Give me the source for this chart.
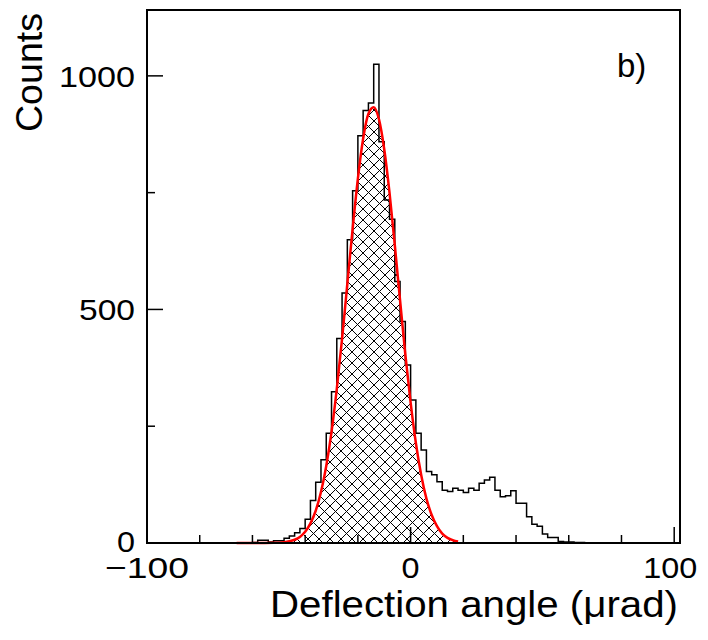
<!DOCTYPE html>
<html lang="en">
  <head>
    <meta charset="UTF-8" />
    <title>Deflection angle histogram</title>
    <script src="https://d3js.org/d3.v7.min.js"></script>
    <style>
      body {
        margin: 0;
        background: #fff;
      }
      svg {
        display: block;
        font-family: "Liberation Sans", Arial, sans-serif;
      }
    </style>
  </head>
  <body>
    <svg id="chart"></svg>
    <script>
      // histogram: 2 µrad bins, lower edge of first bin below
      const binStart = -60;
      const binWidth = 2;
      const counts = [
        1, 6, 6, 2, 5, 5, 10, 15, 22, 31, 51, 91, 130, 178, 235, 324, 438, 535,
        649, 754, 872, 926, 942, 1025, 859, 734, 693, 560, 474, 381, 306, 235,
        199, 153, 146, 131, 113, 110, 117, 113, 108, 117, 113, 128, 135, 141,
        113, 99, 101, 112, 85, 85, 56, 40, 36, 19, 12, 12, 3, 2, 2, 1, 1,
      ];

      // fitted curve (red)
      const fitAngle = [
        -66, -60, -56, -52, -50, -48, -46, -44, -42, -40, -38, -36, -34, -32,
        -30, -28, -26, -24, -22, -20, -18, -16, -14, -12, -10, -8, -6, -4, -2,
        0, 2, 4, 6, 8, 10, 12, 14, 16, 18,
      ];
      const fitCounts = [
        0, 0, 0.1, 0.4, 0.8, 1.7, 3.6, 7, 13, 24, 42, 69, 109, 165, 238, 330,
        437, 555, 672, 780, 866, 919, 933, 907, 843, 750, 638, 520, 404, 301,
        214, 146, 95, 60, 36, 20, 11, 6, 3,
      ];

      const xMajor = [-100, 0, 100];
      const xMinor = [-80, -60, -40, -20, 20, 40, 60, 80];
      const yMajor = [0, 500, 1000];
      const yMinor = [250, 750];

      const width = 708;
      const height = 640;
      const margin = { left: 147, right: 28, top: 10, bottom: 97 };

      const svg = d3
        .select("#chart")
        .attr("width", width)
        .attr("height", height);

      const x = d3
        .scaleLinear()
        .domain([-100, 102.2])
        .range([margin.left, width - margin.right]);
      const y = d3
        .scaleLinear()
        .domain([0, 1141])
        .range([height - margin.bottom, margin.top]);

      // cross hatch pattern
      const s = 11;
      const pat = svg
        .append("defs")
        .append("pattern")
        .attr("id", "hatch")
        .attr("patternUnits", "userSpaceOnUse")
        .attr("width", s)
        .attr("height", s);
      pat
        .append("path")
        .attr("d", `M-1,-1L${s + 1},${s + 1}M-1,${s + 1}L${s + 1},-1`)
        .attr("stroke", "#000")
        .attr("stroke-width", 1.1)
        .attr("shape-rendering", "crispEdges");

      const fit = fitAngle.map((a, i) => [a, fitCounts[i]]);

      // hatched area under the fit
      svg
        .append("path")
        .datum(fit)
        .attr("fill", "url(#hatch)")
        .attr(
          "d",
          d3
            .area()
            .x((d) => x(d[0]))
            .y0(y(0))
            .y1((d) => y(d[1]))
            .curve(d3.curveMonotoneX)
        );

      // histogram outline
      const steps = counts.map((c, i) => [binStart + i * binWidth, c]);
      steps.push([binStart + counts.length * binWidth, 0]);
      const full = [[-100, 0], [binStart, 0]].concat(steps, [[102.2, 0]]);
      svg
        .append("path")
        .datum(full)
        .attr("fill", "none")
        .attr("stroke", "#000")
        .attr("stroke-width", 1.5)
        .attr(
          "d",
          d3
            .line()
            .x((d) => x(d[0]))
            .y((d) => y(d[1]))
            .curve(d3.curveStepAfter)
        );

      // fit line
      svg
        .append("path")
        .datum(fit)
        .attr("fill", "none")
        .attr("stroke", "#ff0000")
        .attr("stroke-width", 2.5)
        .attr(
          "d",
          d3
            .line()
            .x((d) => x(d[0]))
            .y((d) => y(d[1]))
            .curve(d3.curveMonotoneX)
        );

      // frame
      svg
        .append("rect")
        .attr("x", x.range()[0])
        .attr("y", y.range()[1])
        .attr("width", x.range()[1] - x.range()[0])
        .attr("height", y.range()[0] - y.range()[1])
        .attr("fill", "none")
        .attr("stroke", "#000")
        .attr("stroke-width", 2);

      // ticks (inside the frame)
      const y0 = y(0);
      const x0 = x.range()[0];
      svg
        .selectAll(".xt")
        .data(xMajor.map((v) => [v, 16]).concat(xMinor.map((v) => [v, 8])))
        .join("line")
        .attr("x1", (d) => x(d[0]))
        .attr("x2", (d) => x(d[0]))
        .attr("y1", y0)
        .attr("y2", (d) => y0 - d[1])
        .attr("stroke", "#000")
        .attr("stroke-width", 1.5);
      svg
        .selectAll(".yt")
        .data(yMajor.map((v) => [v, 16]).concat(yMinor.map((v) => [v, 8])))
        .join("line")
        .attr("y1", (d) => y(d[0]))
        .attr("y2", (d) => y(d[0]))
        .attr("x1", x0)
        .attr("x2", (d) => x0 + d[1])
        .attr("stroke", "#000")
        .attr("stroke-width", 1.5);

      // tick labels
      const fmt = (v) => (v < 0 ? "\u2212" + Math.abs(v) : String(v));
      const xLen = { "-100": 84, 0: 18, 100: 54 };
      svg
        .selectAll(".xl")
        .data(xMajor)
        .join("text")
        .attr("x", (d) => (d === 100 ? x(d) - 4 : x(d)))
        .attr("y", y0 + 35)
        .attr("text-anchor", "middle")
        .attr("font-size", 30)
        .attr("textLength", (d) => xLen[d])
        .attr("lengthAdjust", "spacingAndGlyphs")
        .text(fmt);

      const yLen = { 0: 18, 500: 56, 1000: 76 };
      svg
        .selectAll(".yl")
        .data(yMajor)
        .join("text")
        .attr("x", x0 - 12)
        .attr("y", (d) => y(d) + (d === 0 ? 9 : 11))
        .attr("text-anchor", "end")
        .attr("font-size", 30)
        .attr("textLength", (d) => yLen[d])
        .attr("lengthAdjust", "spacingAndGlyphs")
        .text((d) => d);

      // axis titles
      svg
        .append("text")
        .attr("x", 678)
        .attr("y", 617)
        .attr("text-anchor", "end")
        .attr("font-size", 37)
        .attr("textLength", 408)
        .attr("lengthAdjust", "spacingAndGlyphs")
        .text("Deflection angle (\u03bcrad)");

      svg
        .append("text")
        .attr("transform", "translate(42,132) rotate(-90)")
        .attr("font-size", 37)
        .attr("textLength", 119)
        .attr("lengthAdjust", "spacingAndGlyphs")
        .text("Counts");

      svg
        .append("text")
        .attr("x", 617)
        .attr("y", 77)
        .attr("font-size", 33)
        .text("b)");
    </script>
  </body>
</html>
